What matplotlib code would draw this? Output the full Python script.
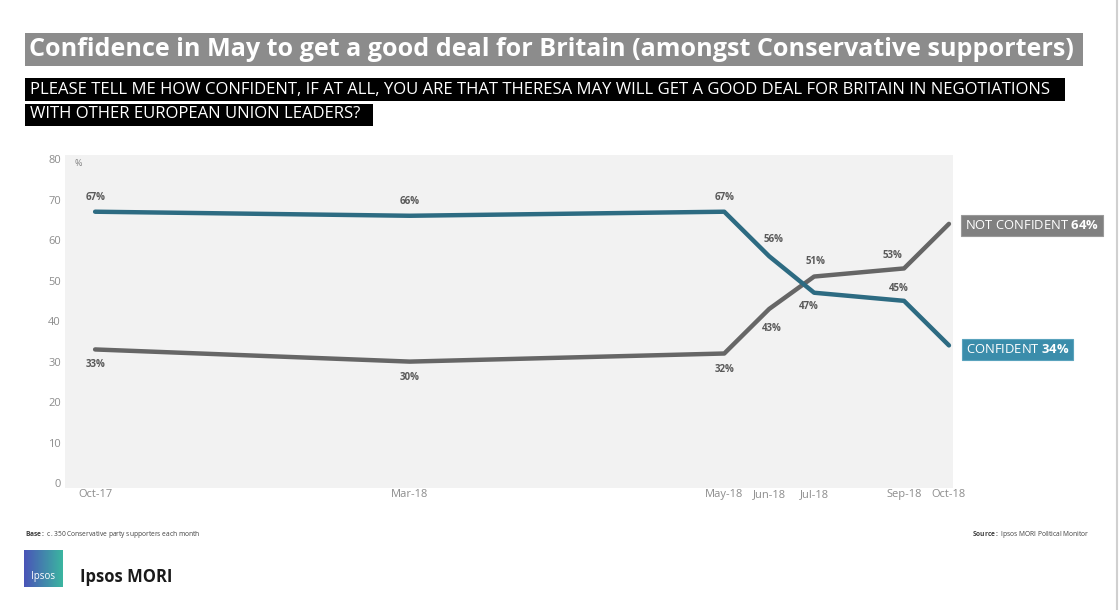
#import libs
import numpy as np
import matplotlib
matplotlib.use("Agg")
import matplotlib.pyplot as plt
from matplotlib.patches import Rectangle

plt.rcParams['font.family'] = ['Open Sans', 'DejaVu Sans']
plt.rcParams['mathtext.fontset'] = 'custom'
plt.rcParams['mathtext.rm'] = 'Open Sans'
plt.rcParams['mathtext.bf'] = 'Open Sans:bold'

#data
months = ["Oct-17", "Mar-18", "May-18", "Jun-18", "Jul-18", "Sep-18", "Oct-18"]
month_pos = [0, 7, 14, 15, 16, 18, 19]   # spacing as on the original axis
confident = [67, 66, 67, 56, 47, 45, 34]
not_confident = [33, 30, 32, 43, 51, 53, 64]

# label offsets in pixels (x, y) for each point, None = no label
conf_off = [(0, 14), (0, 14), (0, 14), (4, 17), (-5, -14), (-5, 12), None]
notc_off = [(0, -15), (0, -16), (0, -16), (3, -20), (1, 15), (-12, 13), None]

teal = "#2d6b82"
grey = "#666666"

W, H = 1120, 610
fig = plt.figure(figsize=(W / 100, H / 100), dpi=100)
fig.patch.set_facecolor("white")

#axes placed in pixel terms
l, r, t, b = 65, 953, 155, 488
ax = fig.add_axes([l / W, 1 - b / H, (r - l) / W, (b - t) / H])
ax.set_facecolor("#f2f2f2")
for s in ax.spines.values():
    s.set_visible(False)

ax.plot(month_pos, confident, color=teal, lw=3.2, solid_capstyle="round", solid_joinstyle="round", zorder=3)
ax.plot(month_pos, not_confident, color=grey, lw=3.2, solid_capstyle="round", solid_joinstyle="round", zorder=2)

ax.set_xlim(-0.67, 19.09)
ax.set_ylim(-1.2, 81)
ax.set_yticks(range(0, 81, 10))
ax.set_xticks(month_pos)
ax.set_xticklabels(months)
ax.tick_params(axis="both", length=0, colors="#8c8c8c", labelsize=8)
ax.tick_params(axis="y", pad=3)
ax.tick_params(axis="x", pad=1)
ax.text(0.011, 0.975, "%", transform=ax.transAxes, fontsize=6.5, color="#7f7f7f", va="center")

#data labels
for x, v, off in zip(month_pos, confident, conf_off):
    if off is None:
        continue
    ax.annotate("%d%%" % v, (x, v), xytext=off, textcoords="offset pixels",
                ha="center", va="center", fontsize=7, fontweight="bold", color="#595959")
for x, v, off in zip(month_pos, not_confident, notc_off):
    if off is None:
        continue
    ax.annotate("%d%%" % v, (x, v), xytext=off, textcoords="offset pixels",
                ha="center", va="center", fontsize=7, fontweight="bold", color="#595959")

#end boxes
ax.annotate(r"NOT CONFIDENT $\mathbf{%d\%%}$" % not_confident[-1], (month_pos[-1], not_confident[-1]),
            xytext=(16, -2), textcoords="offset pixels", ha="left", va="center",
            fontsize=9.4, color="white", annotation_clip=False,
            bbox=dict(boxstyle="square,pad=0.3", fc="#808080", ec="#999999", lw=0.8))
ax.annotate(r"CONFIDENT $\mathbf{%d\%%}$" % confident[-1], (month_pos[-1], confident[-1]),
            xytext=(17, -4), textcoords="offset pixels", ha="left", va="center",
            fontsize=9.4, color="white", annotation_clip=False,
            bbox=dict(boxstyle="square,pad=0.3", fc="#3b8dab", ec="#5aa3bd", lw=0.8))

#title and question
def fy(y):
    return 1 - y / H

fig.patches.append(Rectangle((25 / W, fy(66)), (1083 - 25) / W, 33 / H, transform=fig.transFigure,
                             fc="#8c8c8c", ec="none"))
fig.text(29 / W, fy(49.5), "Confidence in May to get a good deal for Britain (amongst Conservative supporters)",
         color="white", fontsize=18.1, fontweight="bold", va="center", ha="left")

fig.patches.append(Rectangle((25 / W, fy(101)), (1065 - 25) / W, 23 / H, transform=fig.transFigure,
                             fc="black", ec="none"))
fig.patches.append(Rectangle((25 / W, fy(126)), (373 - 25) / W, 22 / H, transform=fig.transFigure,
                             fc="black", ec="none"))
fig.text(30 / W, fy(89.5), "PLEASE TELL ME HOW CONFIDENT, IF AT ALL, YOU ARE THAT THERESA MAY WILL GET A GOOD DEAL FOR BRITAIN IN NEGOTIATIONS",
         color="white", fontsize=12, va="center", ha="left")
fig.text(30 / W, fy(114.5), "WITH OTHER EUROPEAN UNION LEADERS?",
         color="white", fontsize=12, va="center", ha="left")

#footer
fig.text(25 / W, fy(534), r"$\mathbf{Base:}$ c. 350 Conservative party supporters each month",
         fontsize=4.8, color="#404040", va="center", ha="left")
fig.text(1090 / W, fy(534), r"$\mathbf{Source:}$ Ipsos MORI Political Monitor",
         fontsize=4.8, color="#404040", va="center", ha="right")

#logo
lax = fig.add_axes([24 / W, fy(587), 39 / W, 37 / H])
grad = np.linspace(0, 1, 50)
lax.imshow(np.tile(grad, (50, 1)), cmap=matplotlib.colors.LinearSegmentedColormap.from_list("ip", ["#4a55b8", "#3bb5a0"]),
           extent=[0, 1, 0, 1], aspect="auto")
lax.text(0.5, 0.28, "Ipsos", color="white", fontsize=7, ha="center", va="center", transform=lax.transAxes)
lax.axis("off")
fig.text(80 / W, fy(577), "Ipsos MORI", fontsize=12, fontweight="bold", color="#1a1a1a", va="center", ha="left")

#slide edge
fig.add_artist(plt.Line2D([1117 / W, 1117 / W], [0, 1], color="#d0d0d0", lw=1.5))

fig.savefig("out.png", dpi=100)
